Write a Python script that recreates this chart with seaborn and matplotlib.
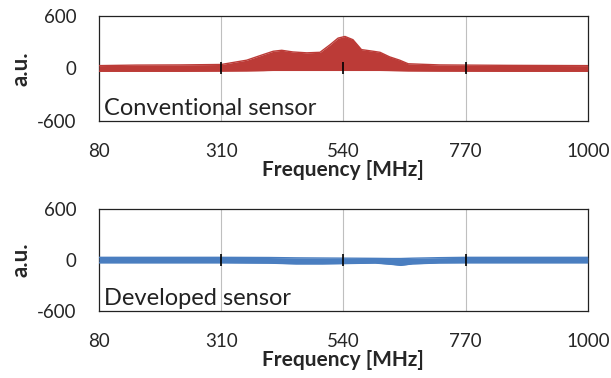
import numpy as np
import matplotlib
matplotlib.use("Agg")
import matplotlib.pyplot as plt
import seaborn as sns

# Frequency knots [MHz] and envelope values (a.u.)
conv_freq = [80, 150, 232, 310, 358, 389, 408, 424, 445, 471, 496, 515, 530, 543, 558, 574, 596, 609, 627, 646, 662, 721, 850, 1000]
conv_upper = [32, 38, 40, 45, 94, 158, 196, 207, 188, 178, 184, 271, 346, 365, 328, 215, 196, 184, 132, 94, 53, 40, 35, 32]
conv_lower = [-32, -32, -32, -30, -28, -25, -22, -22, -22, -22, -22, -22, -22, -22, -22, -22, -22, -22, -24, -26, -28, -30, -32, -32]

dev_freq = [80, 200, 310, 400, 451, 500, 554, 600, 630, 648, 670, 720, 770, 900, 1000]
dev_upper = [32, 32, 32, 30, 26, 24, 22, 20, 18, 18, 22, 28, 32, 32, 32]
dev_lower = [-32, -32, -32, -36, -45, -45, -40, -35, -50, -62, -45, -34, -32, -32, -32]

xticks = [80, 310, 540, 770, 1000]
yticks = [-600, 0, 600]

sns.set_style("white")
plt.rcParams['font.family'] = ['Lato', 'DejaVu Sans']

fig = plt.figure(figsize=(6.11, 3.78), dpi=100)
ax1 = fig.add_axes([0.162, 0.680, 0.800, 0.278])
ax2 = fig.add_axes([0.162, 0.177, 0.800, 0.270])

panels = [
    (ax1, conv_freq, conv_upper, conv_lower, "#BC3B37", "Conventional sensor"),
    (ax2, dev_freq, dev_upper, dev_lower, "#4A7EC0", "Developed sensor"),
]

for ax, f, up, lo, col, label in panels:
    ax.fill_between(f, lo, up, color=col, lw=0, zorder=3)
    sns.lineplot(x=f, y=up, ax=ax, color=col, lw=1, zorder=3)
    sns.lineplot(x=f, y=lo, ax=ax, color=col, lw=1, zorder=3)
    ax.set_xlim(80, 1000)
    ax.set_ylim(-600, 600)
    ax.set_xticks(xticks)
    ax.set_yticks(yticks)
    ax.set_xticklabels([str(t) for t in xticks], fontsize=13.5)
    ax.set_yticklabels([str(t) for t in yticks], fontsize=13.5)
    ax.tick_params(axis="both", length=0)
    ax.tick_params(axis="x", pad=16)
    ax.tick_params(axis="y", pad=16)
    for t in xticks[1:-1]:
        ax.axvline(t, color="#BFBFBF", lw=0.8, zorder=1)
    # Excel-style tick marks crossing the zero axis
    ax.plot(xticks[1:-1], [0] * 3, ls="none", marker="|", ms=9, mew=1.2, color="black", zorder=4)
    for s in ax.spines.values():
        s.set_color("#222222")
        s.set_linewidth(0.9)
    ax.set_xlabel("Frequency [MHz]", fontsize=15, fontweight="bold", labelpad=0)
    ax.set_ylabel("a.u.", fontsize=16, fontweight="bold", labelpad=4)
    ax.text(0.01, 0.06, label, transform=ax.transAxes, fontsize=17, color="#222222", zorder=5)

fig.savefig("out.png", dpi=100)
